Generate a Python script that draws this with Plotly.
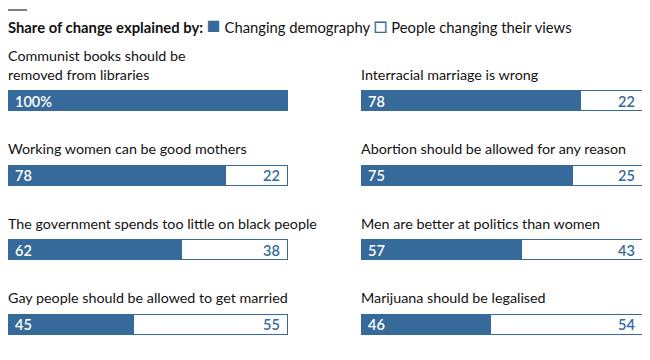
import plotly.graph_objects as go

# Data
left_questions = [
    "Communist books should be<br>removed from libraries",
    "Working women can be good mothers",
    "The government spends too little on black people",
    "Gay people should be allowed to get married",
]
left_demography = [100, 78, 62, 45]
left_views = [0, 22, 38, 55]

right_questions = [
    "Interracial marriage is wrong",
    "Abortion should be allowed for any reason",
    "Men are better at politics than women",
    "Marijuana should be legalised",
]
right_demography = [78, 75, 57, 46]
right_views = [22, 25, 43, 54]

legend_title = "Share of change explained by:"
series_names = ["Changing demography", "People changing their views"]

BLUE = "#356a9a"
TEXT = "#121212"
FONT = "Lato, Roboto, sans-serif"

rows = list(range(4))
fig = go.Figure()

panels = [
    ("x", left_questions, left_demography, left_views),
    ("x2", right_questions, right_demography, right_views),
]

for xa, qs, demo, views in panels:
    fig.add_trace(go.Bar(
        x=demo, y=rows, orientation="h", xaxis=xa, yaxis="y",
        marker=dict(color=BLUE, line=dict(color=BLUE, width=1)),
        width=0.27, name=series_names[0], showlegend=False, hoverinfo="skip",
    ))
    fig.add_trace(go.Bar(
        x=[v if v > 0 else None for v in views], y=rows, orientation="h", xaxis=xa, yaxis="y",
        marker=dict(color="white", line=dict(color=BLUE, width=1)),
        width=0.27, name=series_names[1], showlegend=False, hoverinfo="skip",
    ))

annotations = []
for xa, qs, demo, views in panels:
    for r, q, d, v in zip(rows, qs, demo, views):
        annotations.append(dict(
            x=0, y=r, xref=xa, yref="y", xanchor="left", yanchor="bottom",
            text=q, showarrow=False, xshift=-2, yshift=16.5,
            align="left", font=dict(family=FONT, size=14.3, color=TEXT),
        ))
        label = f"{d}%" if v == 0 else str(d)
        annotations.append(dict(
            x=0, y=r, xref=xa, yref="y", xanchor="left", yanchor="middle",
            text=label, showarrow=False, xshift=5,
            font=dict(family=FONT, size=14.5, color="white", weight=600),
        ))
        if v > 0:
            annotations.append(dict(
                x=100, y=r, xref=xa, yref="y", xanchor="right", yanchor="middle",
                text=str(v), showarrow=False, xshift=-6,
                font=dict(family=FONT, size=14.5, color=BLUE, weight=600),
            ))

annotations.append(dict(
    x=0, y=1 - 16 / 360, xref="paper", yref="paper", xanchor="left", yanchor="middle",
    xshift=-2,
    text=(f"<b>{legend_title}</b> <span style='color:{BLUE};font-size:23px'>■</span> {series_names[0]}"
          f" <span style='color:{BLUE};font-size:23px'>□</span> {series_names[1]}"),
    showarrow=False, font=dict(family=FONT, size=14.8, color=TEXT),
))

fig.update_layout(
    width=650, height=360,
    margin=dict(l=0, r=0, t=0, b=0),
    paper_bgcolor="white", plot_bgcolor="white",
    barmode="stack", bargap=0,
    showlegend=False,
    xaxis=dict(domain=[0, 280 / 650], range=[0, 100], visible=False, fixedrange=True),
    xaxis2=dict(domain=[353 / 650, 635 / 650], range=[0, 100], visible=False, fixedrange=True),
    yaxis=dict(range=[3.577, -1.249], visible=False, fixedrange=True),
    annotations=annotations,
    shapes=[dict(type="line", xref="paper", yref="paper", x0=0, x1=19 / 650,
                 y0=1 - 2 / 360, y1=1 - 2 / 360, line=dict(color="black", width=1))],
)

fig.write_html("out.html")
